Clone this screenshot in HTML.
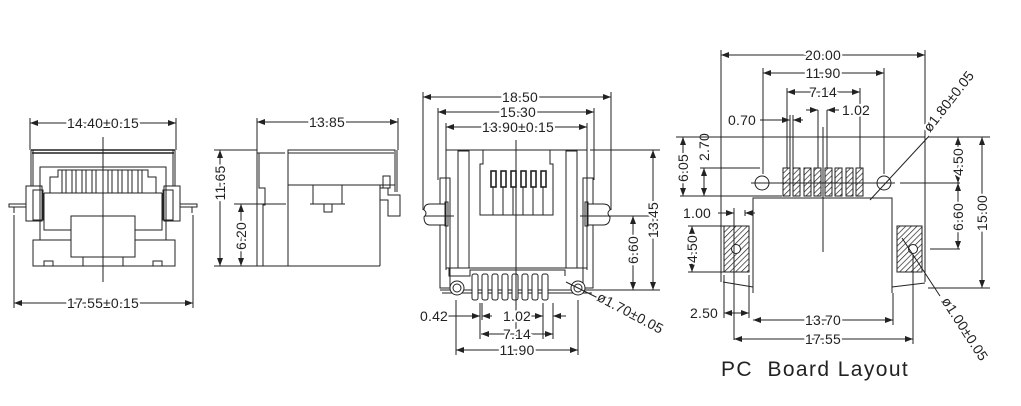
<!DOCTYPE html>
<html><head><meta charset="utf-8"><style>
html,body{margin:0;padding:0;background:#fff}
svg{display:block}
text{font-family:"Liberation Sans",sans-serif;font-size:14px;fill:#222;paint-order:stroke;stroke:#fff;stroke-width:4px;letter-spacing:0.2px}
.l{stroke:#222;stroke-width:1;fill:none}
.t{stroke:#222;stroke-width:1.6;fill:none}
.w{stroke:#222;stroke-width:1;fill:#fff}
.h{stroke:#222;stroke-width:1;fill:url(#hat)}
</style></head><body>
<svg width="1021" height="406" viewBox="0 0 1021 406" xmlns="http://www.w3.org/2000/svg">
<defs>
<marker id="a" viewBox="0 0 8 6" refX="8" refY="3" markerWidth="8" markerHeight="6" orient="auto-start-reverse"><path d="M0,0 L8,3 L0,6z" fill="#222"/></marker>
<pattern id="hat" width="4" height="4" patternUnits="userSpaceOnUse" patternTransform="rotate(45)"><rect width="4" height="4" fill="#fff"/><line x1="0" y1="0" x2="0" y2="4" stroke="#222" stroke-width="1.4"/></pattern>
</defs>

<!-- ===== Front view (left) ===== -->
<g>
<line class="l" x1="30" y1="118" x2="30" y2="150"/><line class="l" x1="176" y1="118" x2="176" y2="150"/>
<line class="l" x1="30" y1="123" x2="176" y2="123" marker-start="url(#a)" marker-end="url(#a)"/>
<text x="103" y="128" text-anchor="middle">14.40±0.15</text>
<path class="t" d="M31,150 H175 M32,153 H174"/>
<path class="l" d="M31,150 V186 M33,150 V186 M175,150 V186 M173,150 V186"/>
<rect class="l" x="40" y="167" width="126" height="73"/>
<path class="l" d="M50,193 V177 H58 V170 H148 V177 H156 V193"/>
<g class="l">
<line x1="62" y1="170" x2="62" y2="193"/><line x1="66" y1="170" x2="66" y2="193"/>
<line x1="72" y1="170" x2="72" y2="193"/><line x1="76" y1="170" x2="76" y2="193"/>
<line x1="82" y1="170" x2="82" y2="193"/><line x1="86" y1="170" x2="86" y2="193"/>
<line x1="92" y1="170" x2="92" y2="193"/><line x1="96" y1="170" x2="96" y2="193"/>
<line x1="108" y1="170" x2="108" y2="193"/><line x1="112" y1="170" x2="112" y2="193"/>
<line x1="118" y1="170" x2="118" y2="193"/><line x1="122" y1="170" x2="122" y2="193"/>
<line x1="128" y1="170" x2="128" y2="193"/><line x1="132" y1="170" x2="132" y2="193"/>
<line x1="138" y1="170" x2="138" y2="193"/><line x1="142" y1="170" x2="142" y2="193"/>
</g>
<path class="l" d="M44,193 H162 M44,193 V230 H72 M162,193 V230 H134"/>
<rect class="l" x="26" y="186" width="16" height="35"/><rect class="l" x="164" y="186" width="16" height="35"/>
<rect class="l" x="33" y="190" width="10" height="30"/><rect class="l" x="163" y="190" width="10" height="30"/>
<path class="l" d="M9,204 H26 V207 H9z M180,204 H197 V207 H180z M14,207 V213 M192,207 V213"/>
<rect class="l" x="33" y="240" width="142" height="26"/>
<rect class="w" x="71" y="216" width="64" height="41"/>
<rect class="l" x="83" y="257" width="40" height="9"/>
<path class="l" d="M44,266 V261 H53 V266 M153,266 V261 H162 V266"/>
<line class="l" x1="103" y1="137" x2="103" y2="282"/>
<line class="l" x1="14" y1="215" x2="14" y2="308"/><line class="l" x1="193" y1="215" x2="193" y2="308"/>
<line class="l" x1="14" y1="303" x2="193" y2="303" marker-start="url(#a)" marker-end="url(#a)"/>
<text x="103" y="308" text-anchor="middle">17.55±0.15</text>
</g>

<!-- ===== Side view ===== -->
<g>
<line class="l" x1="257" y1="118" x2="257" y2="150"/><line class="l" x1="398" y1="118" x2="398" y2="150"/>
<line class="l" x1="257" y1="122" x2="398" y2="122" marker-start="url(#a)" marker-end="url(#a)"/>
<text x="327" y="127" text-anchor="middle">13.85</text>
<line class="l" x1="214" y1="150" x2="257" y2="150"/><line class="l" x1="214" y1="266" x2="257" y2="266"/>
<line class="l" x1="234" y1="204" x2="286" y2="204"/>
<line class="l" x1="220" y1="150" x2="220" y2="266" marker-start="url(#a)" marker-end="url(#a)"/>
<text transform="translate(225,183) rotate(-90)" text-anchor="middle">11.65</text>
<line class="l" x1="241" y1="204" x2="241" y2="266" marker-start="url(#a)" marker-end="url(#a)"/>
<text transform="translate(246,236) rotate(-90)" text-anchor="middle">6.20</text>
<path class="l" d="M257,150 V266 H380 M257,153 H285 M259,153 V188 H265 V205 H263 V266"/>
<rect class="l" x="288" y="150" width="107" height="35"/>
<path class="l" d="M288,150 V266 M380,185 V266 M288,153 H394"/>
<path class="l" d="M313,185 V204 H342 V185 M310,204 H345 M324,204 V212 H332 V204"/>
<rect class="l" x="383" y="176" width="7" height="12"/>
<path class="l" d="M380,188 H388 V195 H400 V216 H388 V200 H380"/>
<path class="l" d="M395,150 V192 M397,150 V192"/>
</g>

<!-- ===== Rear / pin view ===== -->
<g>
<line class="l" x1="423" y1="92" x2="423" y2="210"/><line class="l" x1="611" y1="92" x2="611" y2="210"/>
<line class="l" x1="423" y1="97" x2="611" y2="97" marker-start="url(#a)" marker-end="url(#a)"/>
<text x="520" y="102" text-anchor="middle">18.50</text>
<line class="l" x1="438" y1="108" x2="438" y2="180"/><line class="l" x1="594" y1="108" x2="594" y2="180"/>
<line class="l" x1="438" y1="112" x2="594" y2="112" marker-start="url(#a)" marker-end="url(#a)"/>
<text x="518" y="117" text-anchor="middle">15.30</text>
<line class="l" x1="446" y1="123" x2="446" y2="150"/><line class="l" x1="587" y1="123" x2="587" y2="150"/>
<line class="l" x1="446" y1="127" x2="587" y2="127" marker-start="url(#a)" marker-end="url(#a)"/>
<text x="518" y="132" text-anchor="middle">13.90±0.15</text>
<path class="l" d="M446,150 H587 V270 M446,150 V270"/>
<rect class="l" x="458" y="151" width="11" height="117"/><rect class="l" x="566" y="151" width="11" height="117"/>
<path class="l" d="M483,150 V164 H480 V215 H553 V164 H550 V150"/>
<g class="t">
<rect x="491" y="171" width="5" height="16"/><rect x="501" y="171" width="5" height="16"/><rect x="511" y="171" width="5" height="16"/>
<rect x="521" y="171" width="5" height="16"/><rect x="531" y="171" width="5" height="16"/><rect x="541" y="171" width="5" height="16"/>
</g>
<g class="l"><line x1="493" y1="187" x2="493" y2="215"/><line x1="503" y1="187" x2="503" y2="215"/><line x1="513" y1="187" x2="513" y2="215"/><line x1="523" y1="187" x2="523" y2="215"/><line x1="533" y1="187" x2="533" y2="215"/><line x1="543" y1="187" x2="543" y2="215"/></g>
<rect class="l" x="440" y="178" width="10" height="110"/><rect class="l" x="583" y="178" width="10" height="110"/>
<path class="w" d="M446,204 H430 Q424,204 424,210 Q428,213 424,217 Q424,225 430,225 H446z"/>
<path class="w" d="M587,204 H603 Q610,204 610,210 Q606,213 610,217 Q610,225 603,225 H587z"/>
<rect class="l" x="445" y="202" width="3" height="24"/><rect class="l" x="585" y="202" width="3" height="24"/>
<line class="l" x1="425" y1="216" x2="454" y2="216"/><line class="l" x1="580" y1="216" x2="653" y2="216"/>
<path class="l" d="M446,268 H587 M449,268 V276 H470 V270 H565 V276 M440,290 H593 M442,293 H592"/>
<g class="w">
<rect x="472" y="274" width="6" height="26" rx="2"/><rect x="482" y="274" width="6" height="26" rx="2"/><rect x="492" y="274" width="6" height="26" rx="2"/><rect x="502" y="274" width="6" height="26" rx="2"/>
<rect x="512" y="274" width="6" height="26" rx="2"/><rect x="522" y="274" width="6" height="26" rx="2"/><rect x="532" y="274" width="6" height="26" rx="2"/><rect x="542" y="274" width="6" height="26" rx="2"/>
</g>
<circle class="w" cx="457" cy="288" r="7"/><circle class="l" cx="457" cy="288" r="4"/>
<circle class="w" cx="578" cy="288" r="7"/><circle class="l" cx="578" cy="288" r="4"/>
<line class="l" x1="516" y1="140" x2="516" y2="340"/>
<line class="l" x1="566" y1="282" x2="598" y2="298"/>
<text transform="translate(596,300) rotate(28)">ø1.70±0.05</text>
<line class="l" x1="590" y1="150" x2="660" y2="150"/><line class="l" x1="590" y1="290" x2="660" y2="290"/>
<line class="l" x1="653" y1="150" x2="653" y2="290" marker-start="url(#a)" marker-end="url(#a)"/>
<text transform="translate(658,220) rotate(-90)" text-anchor="middle">13.45</text>
<line class="l" x1="633" y1="216" x2="633" y2="290" marker-start="url(#a)" marker-end="url(#a)"/>
<text transform="translate(638,250) rotate(-90)" text-anchor="middle">6.60</text>
<g class="l">
<line x1="456" y1="300" x2="456" y2="355"/><line x1="578" y1="300" x2="578" y2="355"/>
<line x1="480" y1="303" x2="480" y2="339"/><line x1="482" y1="303" x2="482" y2="320"/>
<line x1="543" y1="303" x2="543" y2="339"/><line x1="553" y1="303" x2="553" y2="339"/>
</g>
<line class="l" x1="448" y1="316" x2="480" y2="316" marker-end="url(#a)"/>
<line class="l" x1="492" y1="316" x2="482" y2="316" marker-end="url(#a)"/>
<text x="420" y="321">0.42</text>
<line class="l" x1="530" y1="316" x2="543" y2="316" marker-end="url(#a)"/>
<line class="l" x1="566" y1="316" x2="553" y2="316" marker-end="url(#a)"/>
<text x="503" y="321">1.02</text>
<line class="l" x1="481" y1="334" x2="553" y2="334" marker-start="url(#a)" marker-end="url(#a)"/>
<text x="517" y="339" text-anchor="middle">7.14</text>
<line class="l" x1="456" y1="350" x2="578" y2="350" marker-start="url(#a)" marker-end="url(#a)"/>
<text x="517" y="355" text-anchor="middle">11.90</text>
</g>

<!-- ===== PC board layout ===== -->
<g>
<line class="l" x1="721" y1="50" x2="721" y2="137"/><line class="l" x1="925" y1="50" x2="925" y2="137"/>
<line class="l" x1="721" y1="55" x2="925" y2="55" marker-start="url(#a)" marker-end="url(#a)"/>
<text x="823" y="60" text-anchor="middle">20.00</text>
<line class="l" x1="763" y1="68" x2="763" y2="174"/><line class="l" x1="884" y1="68" x2="884" y2="174"/>
<line class="l" x1="763" y1="73" x2="884" y2="73" marker-start="url(#a)" marker-end="url(#a)"/>
<text x="823" y="78" text-anchor="middle">11.90</text>
<line class="l" x1="787" y1="88" x2="787" y2="168"/><line class="l" x1="860" y1="88" x2="860" y2="168"/>
<line class="l" x1="787" y1="92" x2="860" y2="92" marker-start="url(#a)" marker-end="url(#a)"/>
<text x="823" y="97" text-anchor="middle">7.14</text>
<line class="l" x1="790" y1="115" x2="790" y2="168"/><line class="l" x1="793" y1="115" x2="793" y2="168"/>
<line class="l" x1="818" y1="110" x2="818" y2="168"/><line class="l" x1="827" y1="110" x2="827" y2="168"/>
<line class="l" x1="806" y1="110" x2="818" y2="110" marker-end="url(#a)"/>
<line class="l" x1="839" y1="110" x2="827" y2="110" marker-end="url(#a)"/>
<text x="842" y="115">1.02</text>
<line class="l" x1="760" y1="120" x2="790" y2="120" marker-end="url(#a)"/>
<line class="l" x1="803" y1="120" x2="793" y2="120" marker-end="url(#a)"/>
<text x="728" y="125">0.70</text>
<line class="l" x1="721" y1="137" x2="925" y2="137"/>
<line class="l" x1="680" y1="196" x2="782" y2="196"/><line class="l" x1="700" y1="168" x2="760" y2="168"/>
<line class="l" x1="704" y1="168" x2="704" y2="196" marker-start="url(#a)" marker-end="url(#a)"/>
<text transform="translate(709,147) rotate(-90)" text-anchor="middle">2.70</text>
<line class="l" x1="683" y1="137" x2="683" y2="196" marker-start="url(#a)" marker-end="url(#a)"/>
<text transform="translate(688,168) rotate(-90)" text-anchor="middle">6.05</text>
<line class="l" x1="676" y1="137" x2="721" y2="137"/>
<g class="h">
<rect x="783" y="168" width="7" height="28"/><rect x="793" y="168" width="7" height="28"/><rect x="804" y="168" width="7" height="28"/><rect x="814" y="168" width="7" height="28"/>
<rect x="825" y="168" width="7" height="28"/><rect x="835" y="168" width="7" height="28"/><rect x="846" y="168" width="7" height="28"/><rect x="856" y="168" width="7" height="28"/>
</g>
<circle class="l" cx="762" cy="183" r="7"/><circle class="l" cx="884" cy="183" r="7"/>
<line class="l" x1="751" y1="183" x2="895" y2="183"/><line class="l" x1="900" y1="183" x2="960" y2="183"/>
<path class="l" d="M753,293 V198 H892 V293"/>
<line class="l" x1="823" y1="127" x2="823" y2="252"/>
<path class="l" d="M721,137 V282 M925,137 V282 M723,282 L753,287 M892,287 L925,283"/>
<rect class="h" x="724" y="226" width="25" height="46"/><circle class="w" cx="736" cy="249" r="4.5"/>
<rect class="h" x="897" y="226" width="25" height="46"/><circle class="w" cx="913" cy="249" r="4.5"/>
<line class="l" x1="870" y1="200" x2="930" y2="135"/>
<text transform="translate(930,133) rotate(-52)">ø1.80±0.05</text>
<line class="l" x1="902" y1="238" x2="940" y2="296"/>
<text transform="translate(941,301) rotate(57)">ø1.00±0.05</text>
<line class="l" x1="928" y1="137" x2="990" y2="137"/><line class="l" x1="928" y1="288" x2="990" y2="288"/>
<line class="l" x1="982" y1="137" x2="982" y2="288" marker-start="url(#a)" marker-end="url(#a)"/>
<text transform="translate(987,213) rotate(-90)" text-anchor="middle">15.00</text>
<line class="l" x1="958" y1="137" x2="958" y2="183" marker-start="url(#a)" marker-end="url(#a)"/>
<text transform="translate(963,162) rotate(-90)" text-anchor="middle">4.50</text>
<line class="l" x1="930" y1="249" x2="960" y2="249"/>
<line class="l" x1="958" y1="183" x2="958" y2="249" marker-start="url(#a)" marker-end="url(#a)"/>
<text transform="translate(963,217) rotate(-90)" text-anchor="middle">6.60</text>
<line class="l" x1="734" y1="208" x2="734" y2="340"/><line class="l" x1="745" y1="210" x2="745" y2="216"/>
<line class="l" x1="718" y1="213" x2="734" y2="213" marker-end="url(#a)"/>
<line class="l" x1="755" y1="213" x2="745" y2="213" marker-end="url(#a)"/>
<text x="683" y="218">1.00</text>
<line class="l" x1="688" y1="226" x2="724" y2="226"/><line class="l" x1="688" y1="272" x2="724" y2="272"/>
<line class="l" x1="692" y1="226" x2="692" y2="272" marker-start="url(#a)" marker-end="url(#a)"/>
<text transform="translate(697,249) rotate(-90)" text-anchor="middle">4.50</text>
<line class="l" x1="724" y1="275" x2="724" y2="318"/><line class="l" x1="749" y1="275" x2="749" y2="318"/>
<line class="l" x1="724" y1="313" x2="749" y2="313" marker-start="url(#a)" marker-end="url(#a)"/>
<text x="690" y="318">2.50</text>
<line class="l" x1="893" y1="293" x2="893" y2="325"/><line class="l" x1="913" y1="255" x2="913" y2="344"/>
<line class="l" x1="753" y1="320" x2="893" y2="320" marker-start="url(#a)" marker-end="url(#a)"/>
<text x="823" y="325" text-anchor="middle">13.70</text>
<line class="l" x1="734" y1="339" x2="913" y2="339" marker-start="url(#a)" marker-end="url(#a)"/>
<text x="823" y="344" text-anchor="middle">17.55</text>
<text x="721" y="376" style="font-size:21px;letter-spacing:1.4px;fill:#222" xml:space="preserve">PC  Board Layout</text>
</g>
</svg>
</body></html>
